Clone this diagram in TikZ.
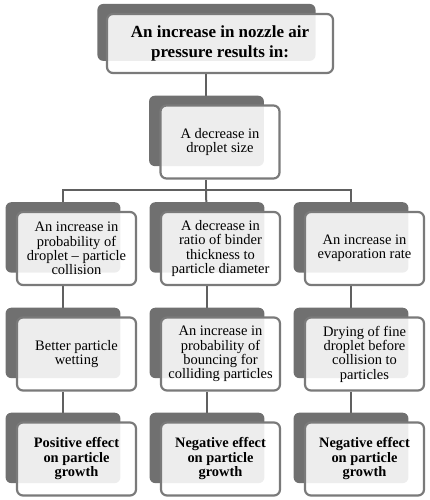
\documentclass[tikz,border=0pt]{standalone}
\usepackage{fontspec}
\setmainfont{Liberation Serif}
\usetikzlibrary{shadows,backgrounds}
\definecolor{shadowgray}{RGB}{112,112,112}
\definecolor{framegray}{RGB}{122,122,122}
\definecolor{linkgray}{RGB}{96,96,96}
\tikzset{
card/.style={draw=framegray,line width=2.2pt,rounded corners=6pt,fill=white,fill opacity=0.88,text opacity=1,
 minimum width=119pt,minimum height=73pt,inner sep=0pt,align=center,font=\fontsize{14.5}{14.3}\selectfont,
 general shadow={fill=shadowgray,opacity=1,shadow xshift=-14pt,shadow yshift=11.5pt,shadow scale=0.965}},
head/.style={card,minimum width=226pt,minimum height=59pt,font=\fontsize{17}{20}\selectfont\bfseries},
result/.style={card,font=\fontsize{14.4}{14.5}\selectfont\bfseries},
link/.style={draw=linkgray,line width=2pt}
}
\begin{document}
\begin{tikzpicture}[x=1pt,y=-1pt]
\useasboundingbox (0,0) rectangle (430,500);
\node[head](top) at (220,43.5){An increase in nozzle air\\pressure results in:};
\node[card](drop) at (220,142){A decrease in\\droplet size};
\node[card](a1) at (76.5,248.5){An increase in\\probability of\\droplet -- particle\\collision};
\node[card](b1) at (220.5,248.5){A decrease in\\ratio of binder\\thickness to\\particle diameter};
\node[card](c1) at (364.5,248.5){An increase in\\evaporation rate};
\node[card](a2) at (76.5,354){Better particle\\wetting};
\node[card](b2) at (220.5,354){An increase in\\probability of\\bouncing for\\colliding particles};
\node[card](c2) at (364.5,354){Drying of fine\\droplet before\\collision to\\particles};
\node[result](a3) at (76.5,459){Positive effect\\on particle\\growth};
\node[result](b3) at (220.5,459){Negative effect\\on particle\\growth};
\node[result](c3) at (364.5,459){Negative effect\\on particle\\growth};
\begin{pgfonlayer}{background}
\draw[link]([xshift=-14pt]top.south)--([xshift=-14pt]drop.north);
\draw[link]([xshift=-14pt]drop.south)--++(0,10)coordinate(bar);
\draw[link]([xshift=-14pt]a1.north)|-(bar)-|([xshift=-14pt]c1.north);
\draw[link](bar)--([xshift=-14pt]b1.north);
\foreach \col in {a,b,c}{
\draw[link]([xshift=-14pt]\col1.south)--([xshift=-14pt]\col2.north);
\draw[link]([xshift=-14pt]\col2.south)--([xshift=-14pt]\col3.north);
}
\end{pgfonlayer}
\end{tikzpicture}
\end{document}
